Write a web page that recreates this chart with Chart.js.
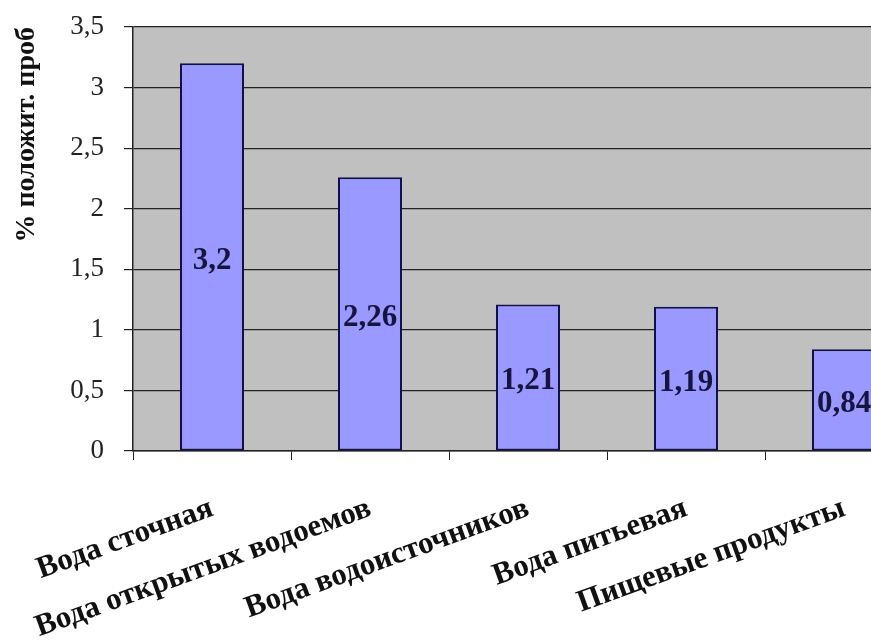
<!DOCTYPE html>
<html>
<head>
<meta charset="utf-8">
<script src="https://cdn.jsdelivr.net/npm/chart.js@4"></script>
<style>
    html, body { margin: 0; padding: 0; overflow: hidden; background: #fff; }
    #caja { width: 925px; height: 644px; }
</style>
</head>
<body>
<div id="caja"><canvas id="grafico"></canvas></div>
<script>
const categorias = ['Вода сточная', 'Вода открытых водоемов', 'Вода водоисточников', 'Вода питьевая', 'Пищевые продукты'];
const valores = [3.2, 2.26, 1.21, 1.19, 0.84];
const tituloY = '% положит. проб';

const conComa = v => String(v).replace('.', ',');

// fondo gris del área del gráfico
const fondoGris = {
    id: 'fondoGris',
    beforeDraw(chart) {
        const { ctx, chartArea: { left, top, width, height } } = chart;
        ctx.save();
        ctx.fillStyle = '#c0c0c0';
        ctx.fillRect(left, top, width, height);
        ctx.restore();
    }
};

// números dentro de las barras
const etiquetas = {
    id: 'etiquetas',
    afterDatasetsDraw(chart) {
        const { ctx } = chart;
        const meta = chart.getDatasetMeta(0);
        ctx.save();
        ctx.font = 'bold 31px "Liberation Serif"';
        ctx.fillStyle = '#15153f';
        ctx.textAlign = 'center';
        ctx.textBaseline = 'middle';
        meta.data.forEach((bar, i) => {
            const { x, y, base } = bar.getProps(['x', 'y', 'base'], true);
            ctx.fillText(conComa(valores[i]), x, (y + base) / 2 + 4);
        });
        ctx.restore();
    }
};

new Chart(document.getElementById('grafico'), {
    type: 'bar',
    plugins: [fondoGris, etiquetas],
    data: {
        labels: categorias,
        datasets: [{
            data: valores,
            backgroundColor: '#9999ff',
            borderColor: '#10104a',
            borderWidth: 2,
            borderSkipped: false,
            categoryPercentage: 0.81,
            barPercentage: 0.5
        }]
    },
    options: {
        responsive: true,
        maintainAspectRatio: false,
        animation: false,
        layout: { padding: { top: 27, left: 0, right: 2, bottom: 0 } },
        plugins: {
            legend: { display: false },
            tooltip: { enabled: false }
        },
        scales: {
            x: {
                afterFit: s => {
                    s.height = 193;
                    s.paddingLeft = 0;
                    s.paddingRight = 0;
                },
                ticks: {
                    color: '#111',
                    maxRotation: 20,
                    minRotation: 20,
                    autoSkip: false,
                    padding: 30,
                    font: { family: '"Liberation Serif"', weight: 'bold', size: 31 }
                },
                grid: {
                    drawOnChartArea: false,
                    color: '#222',
                    tickLength: 9
                },
                border: { color: '#222', width: 1.5 }
            },
            y: {
                min: 0,
                max: 3.5,
                afterFit: s => {
                    s.width = 133;
                    s.paddingTop = 0;
                    s.paddingBottom = 0;
                },
                ticks: {
                    stepSize: 0.5,
                    color: '#222',
                    padding: 20,
                    callback: v => conComa(v),
                    font: { family: '"Liberation Serif"', size: 27 }
                },
                grid: {
                    color: '#222',
                    tickLength: 9,
                    lineWidth: 1.2
                },
                border: { color: '#222', width: 1.5 },
                title: {
                    display: true,
                    text: tituloY,
                    color: '#111',
                    align: 'end',
                    padding: { top: 10, bottom: 0 },
                    font: { family: '"Liberation Serif"', weight: 'bold', size: 28 }
                }
            }
        }
    }
});
</script>
</body>
</html>
